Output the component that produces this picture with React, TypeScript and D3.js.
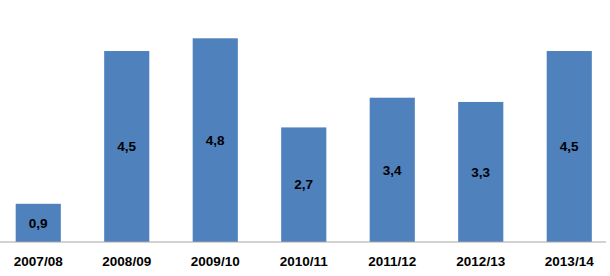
import React from "react";
import * as d3 from "d3";

const categories = ["2007/08", "2008/09", "2009/10", "2010/11", "2011/12", "2012/13", "2013/14"];
const values = [0.9, 4.5, 4.8, 2.7, 3.4, 3.3, 4.5];
const valueLabels = ["0,9", "4,5", "4,8", "2,7", "3,4", "3,3", "4,5"];

const W = 610;
const H = 276;

export default function App() {
  const x = d3.scaleBand<string>().domain(categories).range([-6, 613.5]).paddingInner(0.49).paddingOuter(0.245);
  const y = d3.scaleLinear().domain([0, 4.8]).range([242, 38.3]);
  const font = "'Liberation Sans', Arial, sans-serif";
  return (
    <svg width={W} height={H} style={{ position: "absolute", left: 0, top: 0 }}>
      <rect width={W} height={H} fill="#ffffff" />
      {categories.map((c, i) => {
        const x0 = x(c)!;
        const bw = x.bandwidth();
        const top = y(values[i]);
        return (
          <g key={c}>
            <rect x={x0} y={top} width={bw} height={y(0) - top} fill="#4f81bd" />
            <text
              x={x0 + bw / 2}
              y={(top + y(0)) / 2}
              dy="0.35em"
              textAnchor="middle"
              fontFamily={font}
              fontWeight="bold"
              fontSize={13.5}
              fill="#000"
            >
              {valueLabels[i]}
            </text>
            <text
              x={x0 + bw / 2}
              y={266}
              textAnchor="middle"
              fontFamily={font}
              fontWeight="bold"
              fontSize={13.5}
              fill="#000"
            >
              {c}
            </text>
          </g>
        );
      })}
      <line x1={0} x2={606} y1={242} y2={242} stroke="#a6a6a6" strokeWidth={1.2} />
    </svg>
  );
}
